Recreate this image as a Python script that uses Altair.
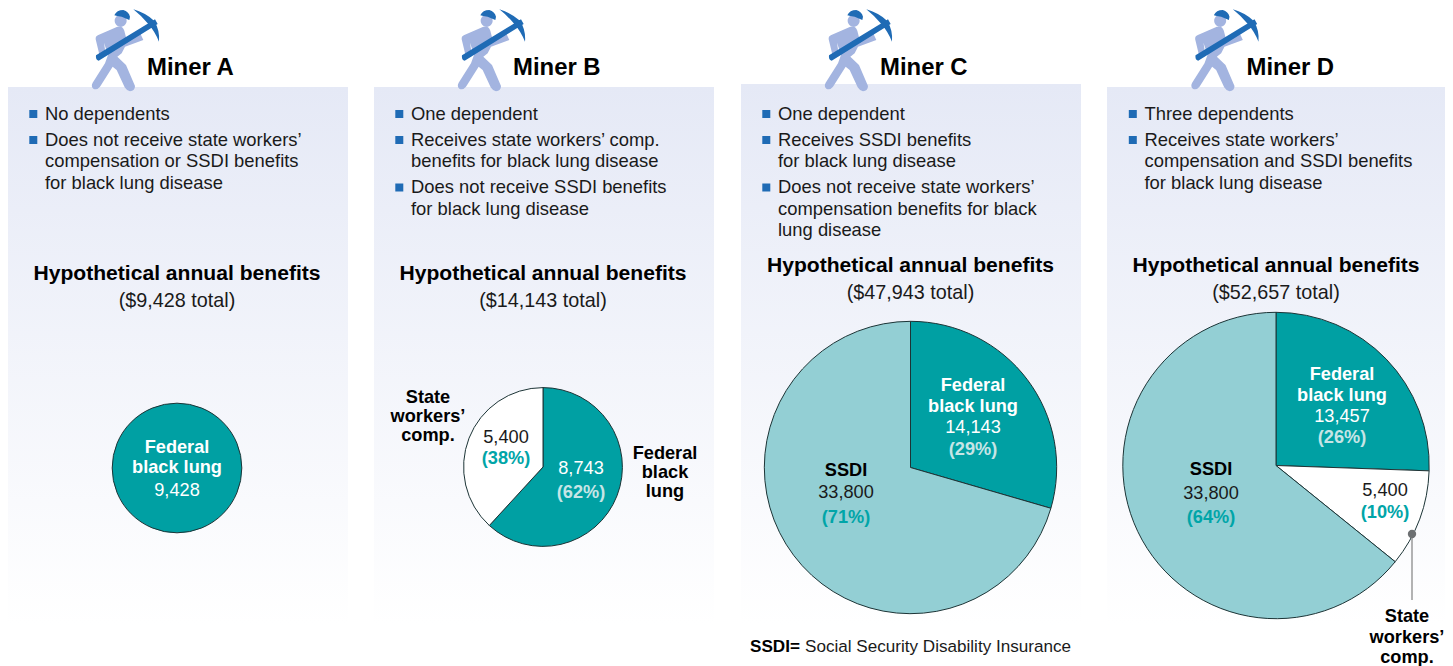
import altair as alt
import pandas as pd

# ---- values ----
MINERS = ["Miner A", "Miner B", "Miner C", "Miner D"]
PIE_MINER = ["Miner A", "Miner B", "Miner B", "Miner C", "Miner C", "Miner D", "Miner D", "Miner D"]
PIE_PART = ["Federal", "Federal", "State", "Federal", "SSDI", "Federal", "State", "SSDI"]
PIE_VALUE = [9428, 8743, 5400, 14143, 33800, 13457, 5400, 33800]
TOTAL_TEXT = ["($9,428 total)", "($14,143 total)", "($47,943 total)", "($52,657 total)"]
BULLETS = [
    [["No dependents"],
     ["Does not receive state workers’", "compensation or SSDI benefits", "for black lung disease"]],
    [["One dependent"],
     ["Receives state workers’ comp.", "benefits for black lung disease"],
     ["Does not receive SSDI benefits", "for black lung disease"]],
    [["One dependent"],
     ["Receives SSDI benefits", "for black lung disease"],
     ["Does not receive state workers’", "compensation benefits for black", "lung disease"]],
    [["Three dependents"],
     ["Receives state workers’", "compensation and SSDI benefits", "for black lung disease"]],
]

# ---- layout (separate from the values) ----
FONT = "Liberation Sans"
OFFSET = [0, 366, 733, 1099.5]
PANEL_X0 = [8, 374, 741, 1107]
PANEL_X1 = [348, 714, 1081, 1445]
PANEL_TOP = [87, 87, 84, 87]
PANEL_BOTTOM = 625
CENTER_X = [177, 543, 910.5, 1276]
CENTER_Y = [468, 467, 467.5, 465.5]
HEAD_Y = [280, 280, 272, 272]
SUB_Y = [307, 307, 299, 299]
TEAL, PALE, DARK_BLUE, BODY = "#00a0a3", "#93cfd4", "#1f6bb5", "#a3b4e0"
TEXT_TEAL, TEXT_LIGHT = "#00a5a8", "#c6e5e6"

X = alt.Scale(domain=[8, 1445], nice=False, zero=False)
Y = alt.Scale(domain=[666, 8], nice=False, zero=False)
def xc(f="x"): return alt.X(f"{f}:Q", scale=X, axis=None)
def yc(f="y"): return alt.Y(f"{f}:Q", scale=Y, axis=None)

# ---- panels ----
panels = alt.Chart(pd.DataFrame({"x": PANEL_X0, "x2": PANEL_X1, "y": PANEL_TOP,
                                 "y2": [PANEL_BOTTOM] * 4})).mark_rect(
    fill=alt.Gradient(gradient="linear", x1=0, y1=0, x2=0, y2=1,
                      stops=[alt.GradientStop(offset=0, color="#e5e9f6"),
                             alt.GradientStop(offset=1, color="#ffffff")])
).encode(x=xc(), x2="x2:Q", y=yc(), y2="y2:Q")

# ---- pies ----
pie_df = pd.DataFrame({
    "miner": PIE_MINER, "part": PIE_PART, "value": PIE_VALUE,
    "order": list(range(len(PIE_VALUE))),
})
pie_df["cx"] = pie_df["miner"].map(dict(zip(MINERS, CENTER_X)))
pie_df["cy"] = pie_df["miner"].map(dict(zip(MINERS, CENTER_Y)))
pies = (
    alt.Chart(pie_df)
    .transform_joinaggregate(total="sum(value)", groupby=["miner"])
    .transform_stack(stack="value", groupby=["miner"], as_=["t0", "t1"], offset="normalize",
                     sort=[alt.SortField("order", order="ascending")])
    .mark_arc(stroke="#1c3436", strokeWidth=1)
    .encode(
        x=xc("cx"), y=yc("cy"),
        theta=alt.Theta("t0:Q", stack=False, scale=alt.Scale(domain=[0, 1], range=[0, 6.28318530718])),
        theta2="t1:Q",
        radius=alt.Radius("total:Q", stack=False,
                          scale=alt.Scale(type="sqrt", domain=[0, 52657], range=[0, 153.2], zero=True)),
        color=alt.Color("part:N", legend=None,
                        scale=alt.Scale(domain=["Federal", "State", "SSDI"], range=[TEAL, "#ffffff", PALE])),
    )
)

# ---- text, collected by style ----
styles = {}
def put(text, x, y, size=18.2, bold=False, color="#1a1a1a", align="center"):
    styles.setdefault((size, bold, color, align), []).append({"t": text, "x": x, "y": y})

squares = []
for i, m in enumerate(MINERS):
    off = OFFSET[i]
    put(m, 147 + off, 75, 23.9, True, "#000000", "left")
    y = 119.5
    for item in BULLETS[i]:
        squares.append({"x": 33.3 + off, "y": y - 5.5})
        for j, line in enumerate(item):
            put(line, 45 + off, y + 21.5 * j, 18.4, align="left")
        y += 21.5 * (len(item) - 1) + 26
    put("Hypothetical annual benefits", CENTER_X[i], HEAD_Y[i], 21.1, True, "#000000")
    put(TOTAL_TEXT[i], CENTER_X[i], SUB_Y[i], 19.8)

W = "#ffffff"
# Miner A
put("Federal", 177, 453, bold=True, color=W)
put("black lung", 177, 473, bold=True, color=W)
put("9,428", 177, 496, color=W)
# Miner B
put("8,743", 581, 474, color=W)
put("(62%)", 581, 498, bold=True, color=TEXT_LIGHT)
put("5,400", 506, 443)
put("(38%)", 506, 464, bold=True, color=TEXT_TEAL)
for t, y in zip(["State", "workers’", "comp."], [403, 422, 441]):
    put(t, 428, y, bold=True, color="#000000")
for t, y in zip(["Federal", "black", "lung"], [459, 478, 497]):
    put(t, 665, y, bold=True, color="#000000")
# Miner C
put("Federal", 973, 391, bold=True, color=W)
put("black lung", 973, 412, bold=True, color=W)
put("14,143", 973, 433, color=W)
put("(29%)", 973, 455, bold=True, color=TEXT_LIGHT)
put("SSDI", 846, 476, bold=True, color="#000000")
put("33,800", 846, 498)
put("(71%)", 846, 523, bold=True, color=TEXT_TEAL)
# Miner D
put("Federal", 1342, 380, bold=True, color=W)
put("black lung", 1342, 401, bold=True, color=W)
put("13,457", 1342, 422, color=W)
put("(26%)", 1342, 443, bold=True, color=TEXT_LIGHT)
put("SSDI", 1211, 475, bold=True, color="#000000")
put("33,800", 1211, 499)
put("(64%)", 1211, 523, bold=True, color=TEXT_TEAL)
put("5,400", 1385, 496)
put("(10%)", 1385, 518, bold=True, color=TEXT_TEAL)
for t, y in zip(["State", "workers’", "comp."], [622, 643, 663]):
    put(t, 1407, y, bold=True, color="#000000")
# Footnote
put("SSDI=", 750, 652, 17.1, True, "#000000", "left")
put("Social Security Disability Insurance", 805, 652, 17.1, False, "#1a1a1a", "left")

text_layers = []
for (size, bold, color, align), rows in styles.items():
    text_layers.append(
        alt.Chart(pd.DataFrame(rows)).mark_text(
            font=FONT, fontSize=size, fontWeight="bold" if bold else "normal",
            color=color, align=align, baseline="alphabetic"
        ).encode(x=xc(), y=yc(), text="t:N")
    )

bullets = alt.Chart(pd.DataFrame(squares)).mark_square(size=64, color=DARK_BLUE, opacity=1).encode(x=xc(), y=yc())

# ---- miner pictogram (glyph drawn as custom symbols) ----
BODY_PATH = ("M47,118 Q46,108 55,105 L112,80 Q128,76 133,92 L138,112 L180,98 L190,120 L135,140 L125,160 "
             "L112,170 L138,195 L165,258 Q165,272 150,274 Q140,272 134,262 L110,210 L98,200 L60,260 "
             "Q50,272 40,266 Q32,258 38,248 L75,190 L84,165 L72,128 L78,168 L60,172 Z "
             "M104,62 a18,18 0 1,0 36,0 a18,18 0 1,0 -36,0 Z")
PICK_PATH = ("M48,166 L225,58 L233,72 L56,182 Q46,180 48,166 Z "
             "M160,28 Q195,38 222,62 Q240,90 237,125 Q225,95 205,72 Q185,48 160,28 Z "
             "M103,46 Q110,30 130,30 Q146,35 150,50 L148,60 L125,50 Q110,48 103,46 Z")
icon_df = pd.DataFrame({"x": [80 + o for o in OFFSET], "y": [0] * 4})
def icon(path, color):
    return alt.Chart(icon_df).mark_point(shape=path, size=4 / 9, filled=True, fill=color,
                                         strokeWidth=0, opacity=1).encode(x=xc(), y=yc())

# ---- leader for the state workers' slice in Miner D ----
leader = alt.Chart(pd.DataFrame({"x": [1412], "y": [534], "y2": [600]})).mark_rule(
    color="#9a9a9a", strokeWidth=1.5).encode(x=xc(), y=yc(), y2="y2:Q")
dot = alt.Chart(pd.DataFrame({"x": [1412], "y": [534]})).mark_circle(
    size=70, color="#6d7072", opacity=1).encode(x=xc(), y=yc())

chart = alt.layer(panels, pies, leader, dot, bullets, icon(BODY_PATH, BODY), icon(PICK_PATH, DARK_BLUE),
                  *text_layers).properties(
    width=1437, height=658, padding=0, autosize=alt.AutoSizeParams(type="none"),
    background="#ffffff"
).configure_view(stroke=None)

chart.save("out.html", embed_options={"renderer": "svg", "actions": False})
